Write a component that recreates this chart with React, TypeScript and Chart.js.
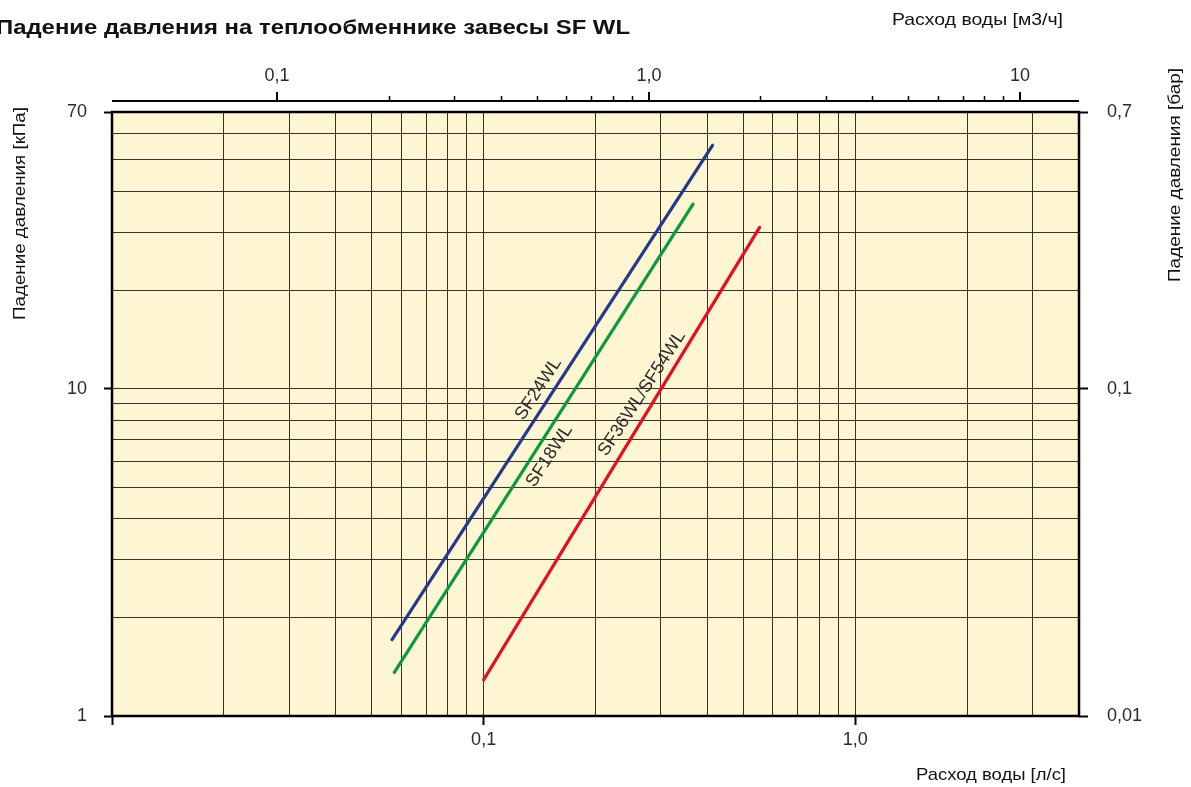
import React, { useEffect, useRef } from "react";
import { Chart, registerables } from "chart.js";

Chart.register(...registerables);

// ---------- texts ----------
const TITLE = "Падение давления на теплообменнике завесы SF WL";
const X_TITLE_BOTTOM = "Расход воды [л/с]";
const X_TITLE_TOP = "Расход воды [м3/ч]";
const Y_TITLE_LEFT = "Падение давления [кПа]";
const Y_TITLE_RIGHT = "Падение давления [бар]";

// ---------- axes ----------
const X_MIN = 0.01; // l/s
const X_MAX = 4; // l/s
const Y_MIN = 1; // kPa
const Y_MAX = 70; // kPa
const M3H_PER_LS = 3.6;
const BAR_PER_KPA = 0.01;

const X_GRID = [
  0.01, 0.02, 0.03, 0.04, 0.05, 0.06, 0.07, 0.08, 0.09,
  0.1, 0.2, 0.3, 0.4, 0.5, 0.6, 0.7, 0.8, 0.9,
  1, 2, 3, 4,
];
const X_MARKED = [0.01, 0.1, 1];
const X_LABEL_VALUES = [0.1, 1];
const X_LABELS = ["0,1", "1,0"];

const Y_GRID = [1, 2, 3, 4, 5, 6, 7, 8, 9, 10, 20, 30, 40, 50, 60, 70];
const Y_LABEL_VALUES = [1, 10, 70];
const Y_LABELS = ["1", "10", "70"];

const Y2_VALUES = [0.01, 0.1, 0.7];
const Y2_LABELS = ["0,01", "0,1", "0,7"];

const TOP_MAJOR_VALUES = [0.1, 1, 10];
const TOP_MAJOR_LABELS = ["0,1", "1,0", "10"];
const TOP_MINOR_VALUES = [0.2, 0.3, 0.4, 0.5, 0.6, 0.7, 0.8, 0.9, 2, 3, 4, 5, 6, 7, 8, 9];

// ---------- series (flow l/s, pressure drop kPa) ----------
const SERIES_NAMES = ["SF24WL", "SF18WL", "SF36WL/SF54WL"];
const SF24_FLOW = [0.0567, 0.413];
const SF24_DP = [1.71, 55.4];
const SF18_FLOW = [0.0575, 0.366];
const SF18_DP = [1.36, 36.6];
const SF36_FLOW = [0.1, 0.553];
const SF36_DP = [1.29, 31.1];
const SERIES_COLORS = ["#25388a", "#0c9a3c", "#e5101f"];

// label anchors (flow l/s, kPa)
const LABEL_FLOW = [0.1405, 0.1504, 0.2667];
const LABEL_DP = [9.98, 6.23, 9.67];

const FONT = "'Liberation Sans', Arial, Helvetica, sans-serif";
const TEXT_COLOR = "#2a2a2a";
const BG = "#fef5d2";
const GRID_COLOR = "#35312b";

function toPoints(xs: number[], ys: number[]) {
  return xs.map((x, i) => ({ x, y: ys[i] }));
}

function fitted(
  ctx: CanvasRenderingContext2D,
  text: string,
  x: number,
  y: number,
  font: string,
  targetW: number,
  align: CanvasTextAlign,
  rot = 0
) {
  ctx.save();
  ctx.translate(x, y);
  if (rot) ctx.rotate(rot);
  ctx.font = font;
  const w = ctx.measureText(text).width;
  ctx.scale(targetW / w, 1);
  ctx.textAlign = align;
  ctx.textBaseline = "alphabetic";
  ctx.fillStyle = "#111";
  ctx.fillText(text, 0, 0);
  ctx.restore();
}

const decorPlugin = {
  id: "decor",
  beforeDraw(chart: any) {
    const { ctx, chartArea: a } = chart;
    ctx.save();
    ctx.fillStyle = BG;
    ctx.fillRect(a.left, a.top, a.right - a.left, a.bottom - a.top);
    ctx.restore();
  },
  beforeDatasetsDraw(chart: any) {
    const { ctx, chartArea: a } = chart;
    ctx.save();
    ctx.strokeStyle = "#000";
    ctx.lineWidth = 2.5;
    ctx.strokeRect(a.left, a.top, a.right - a.left, a.bottom - a.top);
    ctx.restore();
  },
  afterDatasetsDraw(chart: any) {
    const { ctx, chartArea: a, scales } = chart;
    const x = scales.x;
    const y = scales.y;
    const top = scales.xTop;

    // ---- top axis (m3/h) ----
    const axisY = a.top - 11;
    ctx.save();
    ctx.strokeStyle = "#000";
    ctx.lineWidth = 2;
    ctx.beginPath();
    ctx.moveTo(a.left, axisY);
    ctx.lineTo(a.right, axisY);
    ctx.stroke();
    ctx.lineWidth = 1.5;
    TOP_MINOR_VALUES.forEach((v) => {
      const px = Math.round(top.getPixelForValue(v)) + 0.5;
      ctx.beginPath();
      ctx.moveTo(px, axisY);
      ctx.lineTo(px, axisY - 5);
      ctx.stroke();
    });
    ctx.lineWidth = 2;
    ctx.fillStyle = TEXT_COLOR;
    ctx.font = `18px ${FONT}`;
    ctx.textAlign = "center";
    ctx.textBaseline = "middle";
    TOP_MAJOR_VALUES.forEach((v, i) => {
      const px = Math.round(top.getPixelForValue(v));
      ctx.beginPath();
      ctx.moveTo(px, axisY);
      ctx.lineTo(px, axisY - 9);
      ctx.stroke();
      ctx.fillText(TOP_MAJOR_LABELS[i], px, axisY - 25);
    });
    ctx.restore();

    // ---- curve labels ----
    ctx.save();
    ctx.fillStyle = TEXT_COLOR;
    ctx.font = `18px ${FONT}`;
    ctx.textAlign = "center";
    ctx.textBaseline = "middle";
    SERIES_NAMES.forEach((name, i) => {
      const px = x.getPixelForValue(LABEL_FLOW[i]);
      const py = y.getPixelForValue(LABEL_DP[i]);
      ctx.save();
      ctx.translate(px, py);
      ctx.rotate((-57 * Math.PI) / 180);
      ctx.fillText(name, 0, 0);
      ctx.restore();
    });
    ctx.restore();

    // ---- titles ----
    fitted(ctx, TITLE, -4, 34, `bold 21px ${FONT}`, 634, "left");
    fitted(ctx, X_TITLE_TOP, 1063, 25, `17px ${FONT}`, 171, "right");
    fitted(ctx, X_TITLE_BOTTOM, 1066, 780, `17px ${FONT}`, 150, "right");
    fitted(ctx, Y_TITLE_LEFT, 25, 107, `17px ${FONT}`, 213, "right", -Math.PI / 2);
    fitted(ctx, Y_TITLE_RIGHT, 1180, 68, `17px ${FONT}`, 214, "right", -Math.PI / 2);
  },
};

export default function App() {
  const ref = useRef<HTMLCanvasElement | null>(null);

  useEffect(() => {
    if (!ref.current) return;
    const tickFont = { family: FONT, size: 18 };
    const chart = new Chart(ref.current, {
      type: "line",
      data: {
        datasets: [
          { label: SERIES_NAMES[0], data: toPoints(SF24_FLOW, SF24_DP), borderColor: SERIES_COLORS[0] },
          { label: SERIES_NAMES[1], data: toPoints(SF18_FLOW, SF18_DP), borderColor: SERIES_COLORS[1] },
          { label: SERIES_NAMES[2], data: toPoints(SF36_FLOW, SF36_DP), borderColor: SERIES_COLORS[2] },
        ].map((d) => ({
          ...d,
          xAxisID: "x",
          yAxisID: "y",
          borderWidth: 3.2,
          pointRadius: 0,
          borderCapStyle: "round" as const,
          fill: false,
          tension: 0,
        })),
      },
      options: {
        responsive: false,
        animation: false,
        events: [],
        layout: { padding: { top: 112, left: 0, right: 0, bottom: 0 } },
        plugins: {
          legend: { display: false },
          title: { display: false },
          tooltip: { enabled: false },
        },
        scales: {
          x: {
            type: "logarithmic",
            position: "bottom",
            min: X_MIN,
            max: X_MAX,
            afterBuildTicks: (s: any) => {
              s.ticks = X_GRID.map((v) => ({ value: v }));
            },
            afterFit: (s: any) => {
              s.height = 71;
            },
            border: { display: false },
            grid: {
              color: GRID_COLOR,
              lineWidth: 1,
              drawTicks: true,
              tickLength: 9,
              tickWidth: 2,
              tickColor: (c: any) =>
                c.tick && X_MARKED.includes(c.tick.value) ? "#000" : "rgba(0,0,0,0)",
            },
            ticks: {
              autoSkip: false,
              maxRotation: 0,
              minRotation: 0,
              padding: 4,
              color: TEXT_COLOR,
              font: tickFont,
              callback: (v: any) => {
                const i = X_LABEL_VALUES.indexOf(Number(v));
                return i >= 0 ? X_LABELS[i] : "";
              },
            },
          },
          xTop: {
            type: "logarithmic",
            position: "top",
            display: false,
            min: X_MIN * M3H_PER_LS,
            max: X_MAX * M3H_PER_LS,
          },
          y: {
            type: "logarithmic",
            position: "left",
            min: Y_MIN,
            max: Y_MAX,
            afterBuildTicks: (s: any) => {
              s.ticks = Y_GRID.map((v) => ({ value: v }));
            },
            afterFit: (s: any) => {
              s.width = 112;
            },
            border: { display: false },
            grid: {
              color: GRID_COLOR,
              lineWidth: 1,
              drawTicks: true,
              tickLength: 8,
              tickWidth: 2,
              tickColor: (c: any) =>
                c.tick && Y_LABEL_VALUES.includes(c.tick.value) ? "#000" : "rgba(0,0,0,0)",
            },
            ticks: {
              autoSkip: false,
              padding: 17,
              color: TEXT_COLOR,
              font: tickFont,
              callback: (v: any) => {
                const i = Y_LABEL_VALUES.indexOf(Number(v));
                return i >= 0 ? Y_LABELS[i] : "";
              },
            },
          },
          y2: {
            type: "logarithmic",
            position: "right",
            min: Y_MIN * BAR_PER_KPA,
            max: Y_MAX * BAR_PER_KPA,
            afterBuildTicks: (s: any) => {
              s.ticks = Y2_VALUES.map((v) => ({ value: v }));
            },
            afterFit: (s: any) => {
              s.width = 112;
            },
            border: { display: false },
            grid: {
              drawOnChartArea: false,
              drawTicks: true,
              tickLength: 9,
              tickWidth: 2,
              tickColor: "#000",
            },
            ticks: {
              autoSkip: false,
              padding: 19,
              color: TEXT_COLOR,
              font: tickFont,
              callback: (v: any) => {
                const i = Y2_VALUES.findIndex((t) => Math.abs(t - Number(v)) < 1e-9);
                return i >= 0 ? Y2_LABELS[i] : "";
              },
            },
          },
        },
      } as any,
      plugins: [decorPlugin],
    });
    return () => chart.destroy();
  }, []);

  return (
    <div style={{ position: "absolute", left: 0, top: 0, width: 1191, height: 787, background: "#fff" }}>
      <canvas ref={ref} width={1191} height={787} style={{ display: "block" }} />
    </div>
  );
}
